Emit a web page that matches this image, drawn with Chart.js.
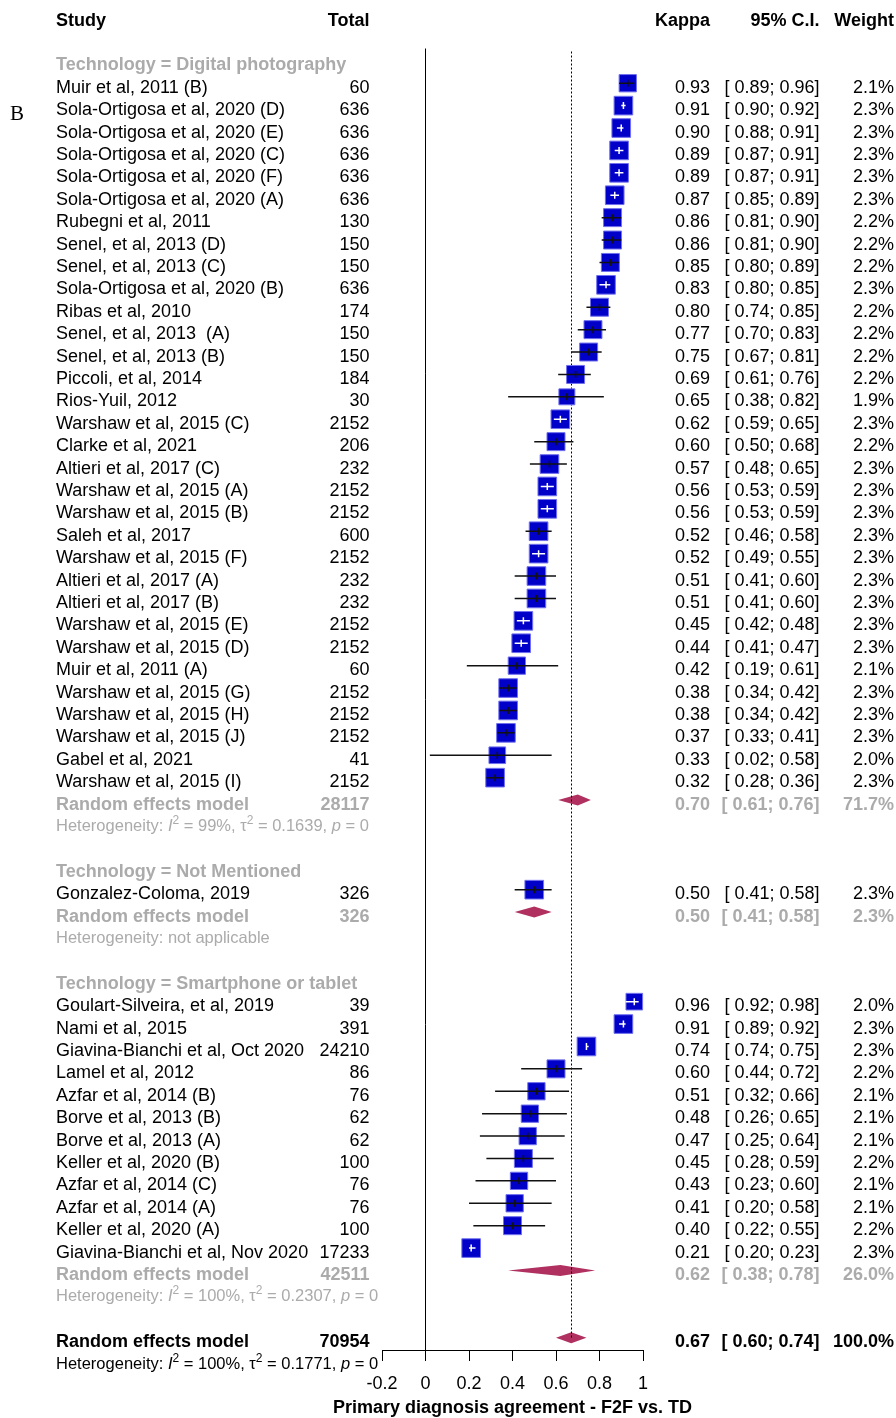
<!DOCTYPE html>
<html>
<head>
<meta charset="utf-8">
<script src="https://cdn.jsdelivr.net/npm/chart.js@4.4.1/dist/chart.umd.min.js"></script>
<style>
  html, body { margin: 0; padding: 0; background: #fff; }
  #wrap { width: 896px; height: 1418px; position: relative; }
</style>
</head>
<body>
<div id="wrap"><canvas id="forest" width="896" height="1418"></canvas></div>
<script>
// Technology = Digital photography
const dpStudies = [
  "Muir et al, 2011 (B)", "Sola-Ortigosa et al, 2020 (D)", "Sola-Ortigosa et al, 2020 (E)",
  "Sola-Ortigosa et al, 2020 (C)", "Sola-Ortigosa et al, 2020 (F)", "Sola-Ortigosa et al, 2020 (A)",
  "Rubegni et al, 2011", "Senel, et al, 2013 (D)", "Senel, et al, 2013 (C)",
  "Sola-Ortigosa et al, 2020 (B)", "Ribas et al, 2010", "Senel, et al, 2013  (A)",
  "Senel, et al, 2013 (B)", "Piccoli, et al, 2014", "Rios-Yuil, 2012",
  "Warshaw et al, 2015 (C)", "Clarke et al, 2021", "Altieri et al, 2017 (C)",
  "Warshaw et al, 2015 (A)", "Warshaw et al, 2015 (B)", "Saleh et al, 2017",
  "Warshaw et al, 2015 (F)", "Altieri et al, 2017 (A)", "Altieri et al, 2017 (B)",
  "Warshaw et al, 2015 (E)", "Warshaw et al, 2015 (D)", "Muir et al, 2011 (A)",
  "Warshaw et al, 2015 (G)", "Warshaw et al, 2015 (H)", "Warshaw et al, 2015 (J)",
  "Gabel et al, 2021", "Warshaw et al, 2015 (I)"
];
const dpTotals = [60, 636, 636, 636, 636, 636, 130, 150, 150, 636, 174, 150, 150, 184, 30,
  2152, 206, 232, 2152, 2152, 600, 2152, 232, 232, 2152, 2152, 60, 2152, 2152, 2152, 41, 2152];
const dpKappa = [0.93, 0.91, 0.90, 0.89, 0.89, 0.87, 0.86, 0.86, 0.85, 0.83, 0.80, 0.77, 0.75, 0.69, 0.65,
  0.62, 0.60, 0.57, 0.56, 0.56, 0.52, 0.52, 0.51, 0.51, 0.45, 0.44, 0.42, 0.38, 0.38, 0.37, 0.33, 0.32];
const dpLower = [0.89, 0.90, 0.88, 0.87, 0.87, 0.85, 0.81, 0.81, 0.80, 0.80, 0.74, 0.70, 0.67, 0.61, 0.38,
  0.59, 0.50, 0.48, 0.53, 0.53, 0.46, 0.49, 0.41, 0.41, 0.42, 0.41, 0.19, 0.34, 0.34, 0.33, 0.02, 0.28];
const dpUpper = [0.96, 0.92, 0.91, 0.91, 0.91, 0.89, 0.90, 0.90, 0.89, 0.85, 0.85, 0.83, 0.81, 0.76, 0.82,
  0.65, 0.68, 0.65, 0.59, 0.59, 0.58, 0.55, 0.60, 0.60, 0.48, 0.47, 0.61, 0.42, 0.42, 0.41, 0.58, 0.36];
const dpWeights = [2.1, 2.3, 2.3, 2.3, 2.3, 2.3, 2.2, 2.2, 2.2, 2.3, 2.2, 2.2, 2.2, 2.2, 1.9,
  2.3, 2.2, 2.3, 2.3, 2.3, 2.3, 2.3, 2.3, 2.3, 2.3, 2.3, 2.1, 2.3, 2.3, 2.3, 2.0, 2.3];

// Technology = Not Mentioned
const nmStudies = ["Gonzalez-Coloma, 2019"];
const nmTotals = [326];
const nmKappa = [0.50];
const nmLower = [0.41];
const nmUpper = [0.58];
const nmWeights = [2.3];

// Technology = Smartphone or tablet
const spStudies = [
  "Goulart-Silveira, et al, 2019", "Nami et al, 2015", "Giavina-Bianchi et al, Oct 2020",
  "Lamel et al, 2012", "Azfar et al, 2014 (B)", "Borve et al, 2013 (B)", "Borve et al, 2013 (A)",
  "Keller et al, 2020 (B)", "Azfar et al, 2014 (C)", "Azfar et al, 2014 (A)",
  "Keller et al, 2020 (A)", "Giavina-Bianchi et al, Nov 2020"
];
const spTotals = [39, 391, 24210, 86, 76, 62, 62, 100, 76, 76, 100, 17233];
const spKappa = [0.96, 0.91, 0.74, 0.60, 0.51, 0.48, 0.47, 0.45, 0.43, 0.41, 0.40, 0.21];
const spLower = [0.92, 0.89, 0.74, 0.44, 0.32, 0.26, 0.25, 0.28, 0.23, 0.20, 0.22, 0.20];
const spUpper = [0.98, 0.92, 0.75, 0.72, 0.66, 0.65, 0.64, 0.59, 0.60, 0.58, 0.55, 0.23];
const spWeights = [2.0, 2.3, 2.3, 2.2, 2.1, 2.1, 2.1, 2.2, 2.1, 2.1, 2.2, 2.3];

// subgroup random effects summaries
const groupLabels = ["Technology = Digital photography", "Technology = Not Mentioned", "Technology = Smartphone or tablet"];
const groupTotals = [28117, 326, 42511];
const groupKappa = [0.70, 0.50, 0.62];
const groupLower = [0.61, 0.41, 0.38];
const groupUpper = [0.76, 0.58, 0.78];
const groupWeights = [71.7, 2.3, 26.0];
const groupI2 = ["99%", null, "100%"];
const groupTau2 = ["0.1639", null, "0.2307"];
const groupP = ["0", null, "0"];

// overall model
const overallTotal = 70954;
const overallKappa = 0.67;
const overallLower = 0.60;
const overallUpper = 0.74;
const overallWeight = 100.0;
const overallI2 = "100%";
const overallTau2 = "0.1771";
const overallP = "0";

const columnHeaders = ["Study", "Total", "Kappa", "95% C.I.", "Weight"];
const xTicks = [-0.2, 0, 0.2, 0.4, 0.6, 0.8, 1];
const xTitle = "Primary diagnosis agreement - F2F vs. TD";
const panelLetter = "B";

const FONT = '"Liberation Sans", Arial, sans-serif';
const GRAY = "#ababab";

// 그룹 묶기
const groups = [
  { label: groupLabels[0], names: dpStudies, n: dpTotals, k: dpKappa, lo: dpLower, hi: dpUpper, w: dpWeights },
  { label: groupLabels[1], names: nmStudies, n: nmTotals, k: nmKappa, lo: nmLower, hi: nmUpper, w: nmWeights },
  { label: groupLabels[2], names: spStudies, n: spTotals, k: spKappa, lo: spLower, hi: spUpper, w: spWeights },
];

// 행 번호 배치
const studyRows = [];
const summaryRows = [];
const textRows = [];
let r = 0;
groups.forEach((g, gi) => {
  textRows.push({ row: r, kind: "group", text: g.label });
  r++;
  g.names.forEach((name, i) => {
    studyRows.push({ row: r, name, n: g.n[i], k: g.k[i], lo: g.lo[i], hi: g.hi[i], w: g.w[i] });
    r++;
  });
  summaryRows.push({ row: r, bold: true, color: GRAY, n: groupTotals[gi], k: groupKappa[gi],
    lo: groupLower[gi], hi: groupUpper[gi], w: groupWeights[gi] });
  r++;
  textRows.push({ row: r, kind: "het", color: GRAY, i2: groupI2[gi], tau2: groupTau2[gi], p: groupP[gi] });
  r += 2;
});
summaryRows.push({ row: r, bold: true, color: "#000", n: overallTotal, k: overallKappa,
  lo: overallLower, hi: overallUpper, w: overallWeight });
textRows.push({ row: r + 1, kind: "het", color: "#000", i2: overallI2, tau2: overallTau2, p: overallP });
const overallRow = r;

function squareSide(w) {
  return 6.67 * w + 3.3;
}

const fmtCI = (lo, hi) => `[ ${lo.toFixed(2)}; ${hi.toFixed(2)}]`;
const fmtW = (w) => `${w.toFixed(1)}%`;

function txt(ctx, s, x, y, align, font, color) {
  ctx.font = font;
  ctx.fillStyle = color;
  ctx.textAlign = align;
  ctx.textBaseline = "alphabetic";
  ctx.fillText(s, x, y);
}

function drawHet(ctx, x, y, h, color) {
  const base = `16.5px ${FONT}`;
  const ital = `italic 16.5px ${FONT}`;
  const sup = `12px ${FONT}`;
  let parts;
  if (h.i2 === null) {
    parts = [["Heterogeneity: not applicable", base, 0]];
  } else {
    parts = [
      ["Heterogeneity: ", base, 0], ["I", ital, 0], ["2", sup, -7],
      [" = " + h.i2 + ", ", base, 0], ["\u03c4", base, 0], ["2", sup, -7],
      [" = " + h.tau2 + ", ", base, 0], ["p", ital, 0], [" = " + h.p, base, 0],
    ];
  }
  ctx.fillStyle = color;
  ctx.textAlign = "left";
  ctx.textBaseline = "alphabetic";
  let cx = x;
  parts.forEach(([s, f, dy]) => {
    ctx.font = f;
    ctx.fillText(s, cx, y + dy);
    cx += ctx.measureText(s).width;
  });
}

const forestPlugin = {
  id: "forest",
  beforeDatasetsDraw(chart) {
    const { ctx, scales: { x: xs, y: ys }, chartArea } = chart;
    ctx.save();
    // 다이아몬드
    summaryRows.forEach((s) => {
      const y = ys.getPixelForValue(s.row);
      ctx.beginPath();
      ctx.moveTo(xs.getPixelForValue(s.lo), y);
      ctx.lineTo(xs.getPixelForValue(s.k), y - 5.5);
      ctx.lineTo(xs.getPixelForValue(s.hi), y);
      ctx.lineTo(xs.getPixelForValue(s.k), y + 5.5);
      ctx.closePath();
      ctx.fillStyle = "#b03060";
      ctx.fill();
    });
    // 점선 (전체 추정치)
    const xo = Math.round(xs.getPixelForValue(overallKappa)) + 0.5;
    ctx.beginPath();
    ctx.setLineDash([2, 2]);
    ctx.moveTo(xo, chartArea.top + 3);
    ctx.lineTo(xo, ys.getPixelForValue(overallRow));
    ctx.strokeStyle = "#000";
    ctx.lineWidth = 1;
    ctx.stroke();
    ctx.restore();
  },
  afterDatasetsDraw(chart) {
    const { ctx, scales: { x: xs, y: ys } } = chart;
    ctx.save();
    studyRows.forEach((s) => {
      const y = ys.getPixelForValue(s.row);
      const x0 = xs.getPixelForValue(s.lo);
      const x1 = xs.getPixelForValue(s.hi);
      const xc = xs.getPixelForValue(s.k);
      const inside = (x1 - x0) <= squareSide(s.w) - 3;
      ctx.strokeStyle = inside ? "#fff" : "#111";
      ctx.lineWidth = 1.5;
      ctx.beginPath();
      ctx.moveTo(x0, y);
      ctx.lineTo(x1, y);
      ctx.moveTo(xc, y - 3.5);
      ctx.lineTo(xc, y + 3.5);
      ctx.stroke();
    });
    ctx.restore();
  },
  afterDraw(chart) {
    const { ctx, scales: { x: xs, y: ys } } = chart;
    const X_STUDY = 56, X_TOTAL = 369.5, X_K = 710, X_CI = 819.5, X_W = 894;
    const reg = `18px ${FONT}`;
    const bold = `bold 18px ${FONT}`;
    const base = (row) => ys.getPixelForValue(row) + 9.5;
    ctx.save();

    // 헤더
    const hy = base(-2);
    txt(ctx, columnHeaders[0], X_STUDY, hy, "left", bold, "#000");
    txt(ctx, columnHeaders[1], X_TOTAL, hy, "right", bold, "#000");
    txt(ctx, columnHeaders[2], X_K, hy, "right", bold, "#000");
    txt(ctx, columnHeaders[3], X_CI, hy, "right", bold, "#000");
    txt(ctx, columnHeaders[4], X_W, hy, "right", bold, "#000");

    txt(ctx, panelLetter, 10, 120, "left", `21px "Liberation Serif", "Times New Roman", serif`, "#000");

    studyRows.forEach((s) => {
      const y = base(s.row);
      txt(ctx, s.name, X_STUDY, y, "left", reg, "#000");
      txt(ctx, String(s.n), X_TOTAL, y, "right", reg, "#000");
      txt(ctx, s.k.toFixed(2), X_K, y, "right", reg, "#000");
      txt(ctx, fmtCI(s.lo, s.hi), X_CI, y, "right", reg, "#000");
      txt(ctx, fmtW(s.w), X_W, y, "right", reg, "#000");
    });

    summaryRows.forEach((s) => {
      const y = base(s.row);
      txt(ctx, "Random effects model", X_STUDY, y, "left", bold, s.color);
      txt(ctx, String(s.n), X_TOTAL, y, "right", bold, s.color);
      txt(ctx, s.k.toFixed(2), X_K, y, "right", bold, s.color);
      txt(ctx, fmtCI(s.lo, s.hi), X_CI, y, "right", bold, s.color);
      txt(ctx, fmtW(s.w), X_W, y, "right", bold, s.color);
    });

    textRows.forEach((t) => {
      const y = base(t.row);
      if (t.kind === "group") {
        txt(ctx, t.text, X_STUDY, y, "left", bold, GRAY);
      } else {
        drawHet(ctx, X_STUDY, y - 1, t, t.color);
      }
    });

    // x축 제목 (축 폭보다 넓어서 직접 그림)
    txt(ctx, xTitle, (xs.left + xs.right) / 2, 1413, "center", bold, "#000");
    ctx.restore();
  },
};

const points = studyRows.map((s) => ({ x: s.k, y: s.row }));
const radii = studyRows.map((s) => squareSide(s.w) / Math.SQRT2);

new Chart(document.getElementById("forest").getContext("2d"), {
  type: "scatter",
  data: {
    datasets: [
      {
        data: points,
        pointStyle: "rect",
        pointRadius: radii,
        pointHoverRadius: radii,
        backgroundColor: "#0000c8",
        borderColor: "#7070f0",
        borderWidth: 1,
        clip: false,
      },
    ],
  },
  options: {
    responsive: false,
    animation: false,
    devicePixelRatio: 1,
    events: [],
    layout: { padding: { left: 382, right: 253, top: 48.5, bottom: 0 } },
    plugins: { legend: { display: false }, tooltip: { enabled: false } },
    scales: {
      x: {
        type: "linear",
        min: -0.2,
        max: 1,
        afterBuildTicks: (s) => { s.ticks = xTicks.map((v) => ({ value: v })); },
        afterFit: (s) => { s.height = 68; },
        grid: {
          color: (c) => (c.tick && c.tick.value === 0 ? "#000" : "rgba(0,0,0,0)"),
          tickColor: "#000",
          tickLength: 11,
          lineWidth: 1,
          drawOnChartArea: true,
        },
        border: { display: true, color: "#000", width: 1 },
        ticks: {
          color: "#000",
          font: { family: FONT, size: 18 },
          padding: 12,
          maxRotation: 0,
          autoSkip: false,
          callback: (v) => String(v),
        },
        title: { display: false },
      },
      y: {
        type: "linear",
        display: false,
        reverse: true,
        min: -0.55,
        max: 57.55,
      },
    },
  },
  plugins: [forestPlugin],
});
</script>
</body>
</html>
